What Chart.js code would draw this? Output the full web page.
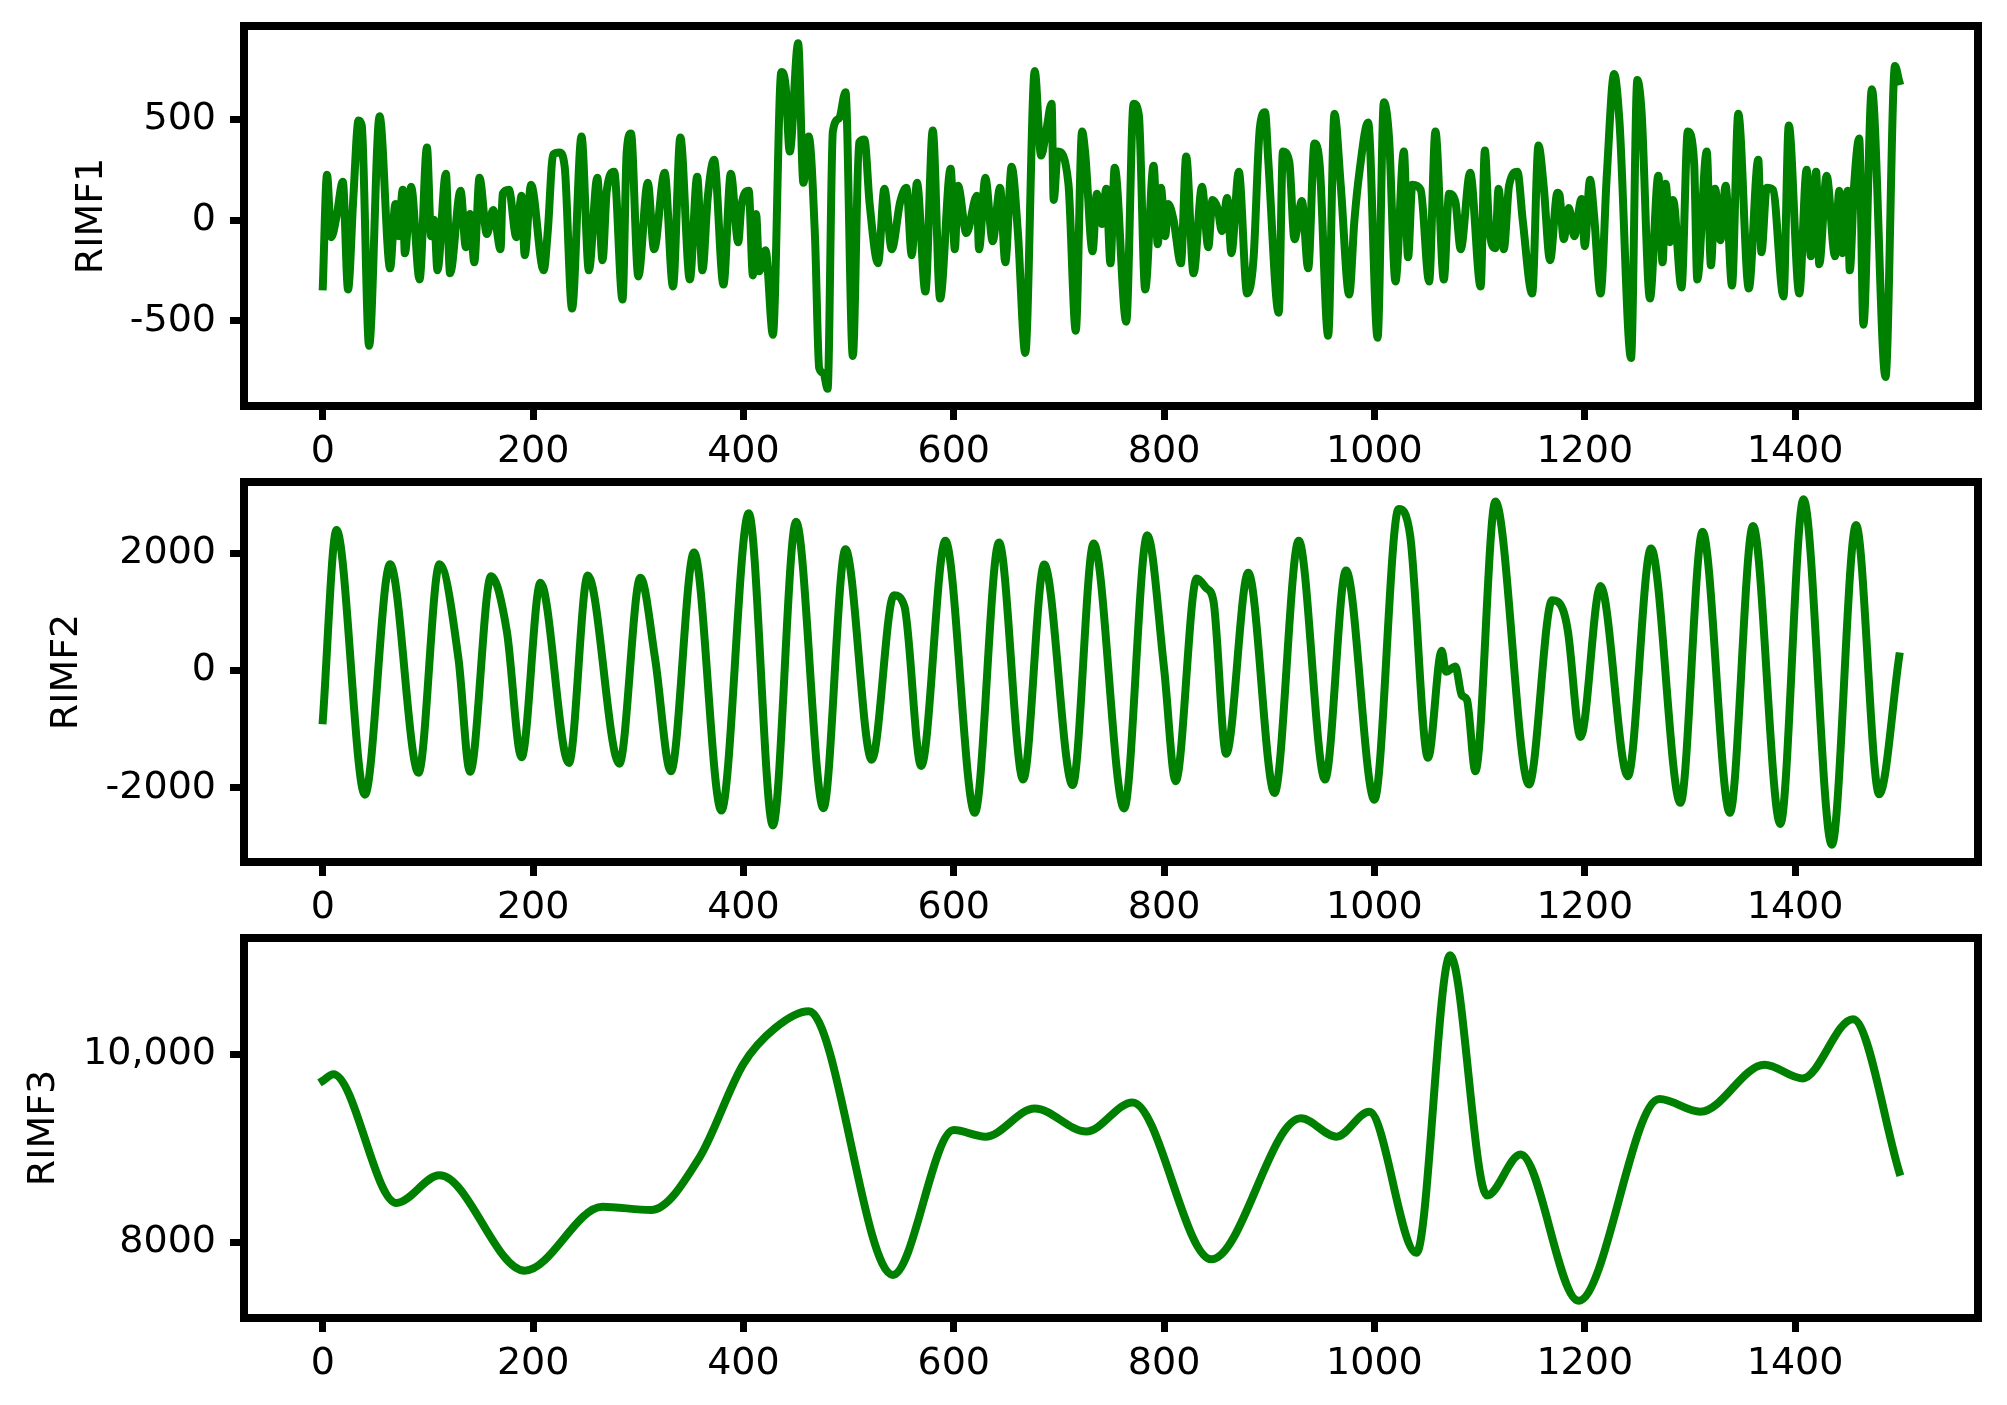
<!DOCTYPE html>
<html>
<head>
<meta charset="utf-8">
<script src="https://cdn.jsdelivr.net/npm/chart.js@4.4.1/dist/chart.umd.min.js"></script>
<style>
  html, body { margin: 0; padding: 0; background: #fff; }
  #wrap { position: relative; width: 2007px; height: 1405px; }
  canvas { position: absolute; left: 0; }
</style>
</head>
<body>
<div id="wrap">
  <canvas id="c1" width="2007" height="486" style="top:0px"></canvas>
  <canvas id="c2" width="2007" height="486" style="top:456px"></canvas>
  <canvas id="c3" width="2007" height="486" style="top:912px"></canvas>
</div>
<script>
// shared x ticks
const xTicks = [0, 200, 400, 600, 800, 1000, 1200, 1400];

// RIMF1, peaks and troughs
const rimf1X = [0, 4, 8, 13, 19, 24, 29, 34, 37, 44, 54, 64, 69, 72, 76, 78, 84, 92, 99, 103, 106, 109, 117, 121, 131, 136, 140, 144, 149, 156, 162, 169, 171, 177, 184, 189, 192, 198, 210, 214, 219, 225, 230, 237, 246, 253, 261, 266, 270, 277, 285, 289, 293, 300, 309, 315, 325, 333, 340, 349, 356, 361, 366, 372, 381, 388, 395, 398, 405, 409, 412, 415, 421, 428, 436, 440, 444, 452, 457, 462, 468, 472, 476, 480, 485, 491, 497, 504, 510, 515, 520, 528, 534, 541, 549, 555, 560, 565, 573, 580, 587, 597, 601, 604, 612, 622, 624, 630, 637, 644, 649, 655, 661, 668, 677, 683, 688, 693, 695, 699, 709, 716, 722, 725, 732, 736, 741, 745, 749, 753, 764, 771, 776, 782, 790, 794, 797, 801, 804, 809, 816, 821, 828, 836, 842, 846, 851, 855, 860, 864, 871, 879, 885, 891, 896, 899, 909, 913, 919, 924, 931, 937, 943, 948, 956, 962, 968, 976, 981, 986, 994, 1003, 1009, 1014, 1020, 1028, 1032, 1036, 1044, 1052, 1058, 1066, 1071, 1077, 1082, 1091, 1101, 1105, 1109, 1115, 1118, 1123, 1128, 1136, 1141, 1150, 1156, 1161, 1167, 1174, 1176, 1180, 1185, 1190, 1197, 1200, 1205, 1209, 1215, 1221, 1228, 1233, 1244, 1250, 1254, 1262, 1270, 1274, 1277, 1281, 1284, 1292, 1298, 1304, 1307, 1316, 1320, 1324, 1329, 1334, 1340, 1346, 1356, 1365, 1368, 1373, 1379, 1389, 1394, 1404, 1411, 1415, 1420, 1423, 1430, 1438, 1442, 1445, 1450, 1452, 1456, 1461, 1465, 1473, 1486, 1495, 1499];
const rimf1Y = [-330, 225, -85, 15, 190, -345, 110, 495, 470, -625, 515, -240, 80, -80, 150, -165, 165, -295, 360, -80, 0, -250, 230, -265, 145, -135, 30, -210, 210, -70, 50, -145, 130, 150, -85, 120, -175, 175, -250, -50, 325, 335, 265, -440, 415, -250, 210, -200, 145, 240, -395, 340, 430, -280, 185, -145, 235, -330, 410, -295, 215, -250, 110, 300, -320, 230, -110, 70, 145, -275, 30, -255, -150, -570, 735, 670, 340, 878, 185, 415, -80, -735, -760, -838, 440, 505, 635, -675, 385, 400, 80, -215, 155, -145, 90, 160, -175, 185, -355, 445, -390, 255, -145, 170, -65, 120, -145, 210, -105, 160, -210, 265, -65, -660, 740, 320, 445, 578, 100, 340, 180, -550, 440, 330, -155, 130, -20, 155, -215, 260, -505, 578, 520, -345, 270, -120, 160, -80, 80, 0, -215, 315, -265, 165, -135, 100, 55, -55, 110, -165, 240, -365, -195, 455, 535, 300, -460, 340, 290, -95, 95, -240, 380, 270, -575, 528, 170, -370, 0, 250, 485, -585, 585, 400, -305, 340, -185, 175, 150, -305, 440, -295, 130, 90, -145, 235, -330, 345, -30, -140, 155, -145, 170, 240, 0, -365, 370, 165, -200, 135, 125, -95, 60, -80, 105, -130, 200, 15, -365, 225, 725, 490, -685, 695, 540, -390, 220, -210, 180, -110, 100, -335, 440, 285, -295, 340, -225, 155, -100, 170, -325, 528, -340, 300, -160, 160, 150, -380, 470, -365, 250, -180, 240, -220, 220, -180, 145, -165, 145, -250, 160, 405, -520, 650, -780, 765, 690];
const rimf1Ticks = [-500, 0, 500];
const rimf1TickLabels = ['-500', '0', '500'];

// RIMF2
const rimf2X = [0, 13, 40, 64, 91, 111, 129, 140, 160, 175, 189, 207, 234, 252, 282, 302, 316, 331, 353, 379, 405, 428, 450, 476, 497, 522, 543, 553, 569, 592, 620, 643, 666, 686, 713, 733, 762, 784, 800, 811, 831, 840, 847, 859, 880, 905, 928, 953, 973, 1000, 1023, 1034, 1051, 1064, 1068, 1077, 1083, 1088, 1096, 1115, 1147, 1169, 1179, 1184, 1196, 1215, 1241, 1263, 1291, 1312, 1338, 1360, 1386, 1408, 1435, 1458, 1480, 1499];
const rimf2Y = [-850, 2400, -2120, 1815, -1745, 1815, 200, -1730, 1610, 670, -1480, 1500, -1580, 1625, -1590, 1585, 200, -1720, 2015, -2390, 2685, -2645, 2540, -2350, 2070, -1525, 1285, 1100, -1630, 2215, -2430, 2185, -1860, 1810, -1955, 2170, -2355, 2310, 30, -1890, 1570, 1410, 1180, -1420, 1670, -2090, 2215, -1860, 1710, -2205, 2760, 2300, -1490, 340, -20, 70, -420, -500, -1720, 2885, -1945, 1200, 1050, 670, -1135, 1445, -1805, 2085, -2260, 2370, -2430, 2470, -2620, 2925, -2975, 2485, -2115, 240];
const rimf2Ticks = [-2000, 0, 2000];
const rimf2TickLabels = ['-2000', '0', '2000'];

// RIMF3
const rimf3X = [0, 10, 70, 111, 192, 266, 312, 358, 400, 430, 462, 542, 600, 630, 677, 726, 770, 845, 930, 964, 995, 1040, 1072, 1107, 1139, 1194, 1271, 1310, 1371, 1407, 1455, 1499];
const rimf3Y = [9720, 9790, 8420, 8715, 7700, 8380, 8345, 8900, 9900, 10280, 10460, 7655, 9195, 9125, 9425, 9180, 9490, 7820, 9320, 9125, 9390, 7890, 11055, 8500, 8935, 7380, 9525, 9390, 9890, 9745, 10375, 8750];
const rimf3Ticks = [8000, 10000];
const rimf3TickLabels = ['8000', '10,000'];

Chart.defaults.font.family = 'DejaVu Sans';
Chart.defaults.color = '#000';

// black box round the plot area, drawn over the line like matplotlib spines
const framePlugin = {
  id: 'frame',
  afterDraw(chart) {
    const { ctx, chartArea: a } = chart;
    ctx.save();
    ctx.strokeStyle = '#000';
    ctx.lineWidth = 8;
    ctx.strokeRect(a.left, a.top, a.right - a.left, a.bottom - a.top);
    ctx.restore();
  }
};

function makePanel(id, xs, ys, yTicks, yLabels, title, titlePad) {
  const points = xs.map((x, i) => ({ x: x, y: ys[i] }));
  const xMin = Math.min(...xs), xMax = Math.max(...xs);
  const yMin = Math.min(...ys), yMax = Math.max(...ys);
  const xPad = (xMax - xMin) * 0.05, yPad = (yMax - yMin) * 0.05;
  const tickFont = { family: 'DejaVu Sans', size: 38 };

  return new Chart(document.getElementById(id), {
    type: 'line',
    data: {
      datasets: [{
        data: points,
        borderColor: '#008000',
        borderWidth: 8,
        pointRadius: 0,
        fill: false,
        cubicInterpolationMode: 'monotone',
        borderJoinStyle: 'round',
        borderCapStyle: 'square'
      }]
    },
    options: {
      responsive: false,
      animation: false,
      events: [],
      layout: { padding: { top: 26, right: 29, left: 0, bottom: 0 } },
      plugins: { legend: { display: false }, tooltip: { enabled: false } },
      scales: {
        x: {
          type: 'linear',
          min: xMin - xPad,
          max: xMax + xPad,
          afterBuildTicks: s => { s.ticks = xTicks.map(v => ({ value: v })); },
          afterFit: s => { s.height = 80; s.paddingLeft = 0; s.paddingRight = 0; },
          grid: { display: true, drawOnChartArea: false, drawTicks: true, tickLength: 14, tickWidth: 7, tickColor: '#000' },
          border: { display: false },
          ticks: { color: '#000', font: tickFont, padding: 9, maxRotation: 0, autoSkip: false, callback: v => String(v) }
        },
        y: {
          type: 'linear',
          min: yMin - yPad,
          max: yMax + yPad,
          afterBuildTicks: s => { s.ticks = yTicks.map(v => ({ value: v })); },
          // fixed width so the three plot boxes line up; no extra top/bottom room for labels
          afterFit: s => { s.width = 244; s.paddingTop = 0; s.paddingBottom = 0; },
          grid: { display: true, drawOnChartArea: false, drawTicks: true, tickLength: 14, tickWidth: 7, tickColor: '#000' },
          border: { display: false },
          ticks: { color: '#000', font: tickFont, padding: 14, autoSkip: false, callback: v => yLabels[yTicks.indexOf(v)] },
          title: { display: true, text: title, color: '#000', font: { family: 'DejaVu Sans', size: 38 }, padding: { top: titlePad, bottom: 0 } }
        }
      }
    },
    plugins: [framePlugin]
  });
}

makePanel('c1', rimf1X, rimf1Y, rimf1Ticks, rimf1TickLabels, 'RIMF1', 69);
makePanel('c2', rimf2X, rimf2Y, rimf2Ticks, rimf2TickLabels, 'RIMF2', 44);
makePanel('c3', rimf3X, rimf3Y, rimf3Ticks, rimf3TickLabels, 'RIMF3', 21);
</script>
</body>
</html>
